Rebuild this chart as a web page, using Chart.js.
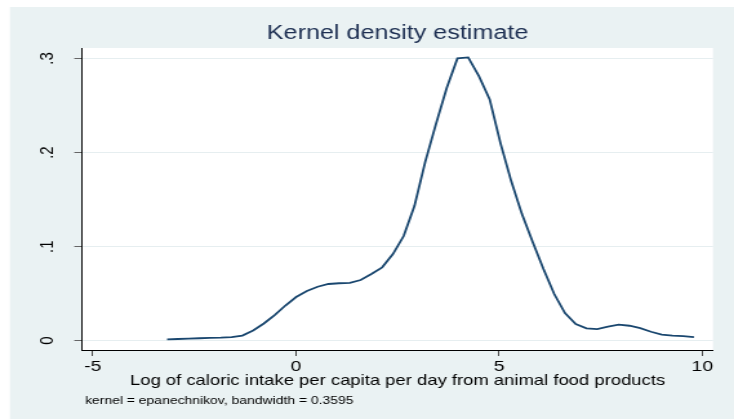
<!DOCTYPE html>
<html lang="en">
<head>
<meta charset="UTF-8">
<title>Kernel density estimate</title>
<script src="https://cdn.jsdelivr.net/npm/chart.js"></script>
<style>
  html, body { margin: 0; padding: 0; background: #fff; }
  /* the source picture is stretched sideways, so draw narrow and widen it */
  .stretch { width: 569px; height: 419px; transform: scale(1.29, 1); transform-origin: 0 0; }
</style>
</head>
<body>
<div class="stretch"><canvas id="kdensity" width="569" height="419"></canvas></div>
<script>
// evaluation points of the density (log kcal/capita/day, animal products)
const xValues = [
  -3.170, -2.905, -2.641, -2.376, -2.112, -1.847, -1.582, -1.318, -1.053, -0.789,
  -0.524, -0.259, 0.005, 0.270, 0.534, 0.799, 1.064, 1.328, 1.593, 1.857,
  2.122, 2.387, 2.651, 2.916, 3.180, 3.445, 3.710, 3.974, 4.239, 4.503,
  4.768, 5.033, 5.297, 5.562, 5.826, 6.091, 6.356, 6.620, 6.885, 7.149,
  7.414, 7.679, 7.943, 8.208, 8.472, 8.737, 9.002, 9.266, 9.531, 9.795
];
const densityValues = [
  0.0015, 0.0018, 0.0022, 0.0026, 0.0029, 0.0032, 0.0037, 0.0055, 0.0108, 0.0183,
  0.0273, 0.0374, 0.0464, 0.0528, 0.0574, 0.0603, 0.0611, 0.0615, 0.0645, 0.0709,
  0.0780, 0.0921, 0.1113, 0.1431, 0.1899, 0.2303, 0.2686, 0.3001, 0.3012, 0.2813,
  0.2565, 0.2101, 0.1697, 0.1346, 0.1049, 0.0762, 0.0496, 0.0294, 0.0177, 0.0132,
  0.0124, 0.0149, 0.0170, 0.0159, 0.0133, 0.0095, 0.0064, 0.0055, 0.0048, 0.0039
];
const xTicks = [-5, 0, 5, 10];
const yTicks = [0, 0.1, 0.2, 0.3];
const yTickLabels = ['0', '.1', '.2', '.3'];
const titleText = 'Kernel density estimate';
const xTitleText = 'Log of caloric intake per capita per day from animal food products';
const noteText = 'kernel = epanechnikov, bandwidth = 0.3595';

Chart.defaults.font.family = '"Liberation Sans", Arial, sans-serif';
Chart.defaults.color = '#000';

const stataBackground = {
  id: 'stataBackground',
  beforeDraw(chart) {
    const { ctx, width, height, chartArea } = chart;
    ctx.save();
    ctx.fillStyle = '#fff';
    ctx.fillRect(0, 0, width, height);
    ctx.fillStyle = '#eaf2f3';
    ctx.fillRect(7.75, 7, width - 7.75, height - 7);
    ctx.fillStyle = '#fff';
    ctx.fillRect(chartArea.left, chartArea.top, chartArea.right - chartArea.left, chartArea.bottom - chartArea.top);
    ctx.restore();
  },
  afterDraw(chart) {
    // the kdensity note under the axis title
    const ctx = chart.ctx;
    ctx.save();
    ctx.font = '10.8px "Liberation Sans", Arial, sans-serif';
    ctx.fillStyle = '#000';
    ctx.textBaseline = 'alphabetic';
    ctx.fillText(noteText, 65.9, 404);
    ctx.restore();
  }
};

new Chart(document.getElementById('kdensity'), {
  type: 'line',
  data: {
    datasets: [{
      data: xValues.map((x, i) => ({ x: x, y: densityValues[i] })),
      borderColor: '#1a476f',
      borderWidth: 1.8,
      pointRadius: 0,
      tension: 0,
      fill: false
    }]
  },
  options: {
    responsive: false,
    animation: false,
    devicePixelRatio: 1,
    layout: { padding: { top: 0, left: 0, right: 16.3, bottom: 0 } },
    plugins: {
      legend: { display: false },
      tooltip: { enabled: false },
      title: {
        display: true,
        text: titleText,
        fullSize: false,
        color: '#1d2f52',
        font: { size: 19.5, weight: 'normal' },
        padding: { top: 22.2, bottom: 2.4 }
      }
    },
    scales: {
      x: {
        type: 'linear',
        min: -5.263,
        max: 10.263,
        afterBuildTicks: (scale) => { scale.ticks = xTicks.map(v => ({ value: v })); },
        afterFit: (scale) => { scale.height = 69; },
        grid: { drawOnChartArea: false, tickLength: 6, tickColor: '#444', tickWidth: 1 },
        border: { display: true, color: '#000', width: 1 },
        ticks: { font: { size: 15 }, padding: 2.1, maxRotation: 0, color: '#000' },
        title: {
          display: true,
          text: xTitleText,
          color: '#000',
          font: { size: 14.3 },
          padding: { top: 0, bottom: 29.2 }
        }
      },
      y: {
        type: 'linear',
        min: -0.00989,
        max: 0.3112,
        afterBuildTicks: (scale) => { scale.ticks = yTicks.map(v => ({ value: v })); },
        afterFit: (scale) => { scale.width = 63.6; },
        grid: { color: '#e6eef0', lineWidth: 1, tickLength: 6, tickColor: '#666', tickWidth: 1 },
        border: { display: true, color: '#000', width: 1 },
        ticks: {
          font: { size: 15 },
          padding: 14.5,
          minRotation: 90,
          maxRotation: 90,
          crossAlign: 'center',
          color: '#000',
          callback: (value) => yTickLabels[yTicks.indexOf(value)]
        }
      }
    }
  },
  plugins: [stataBackground]
});
</script>
</body>
</html>
